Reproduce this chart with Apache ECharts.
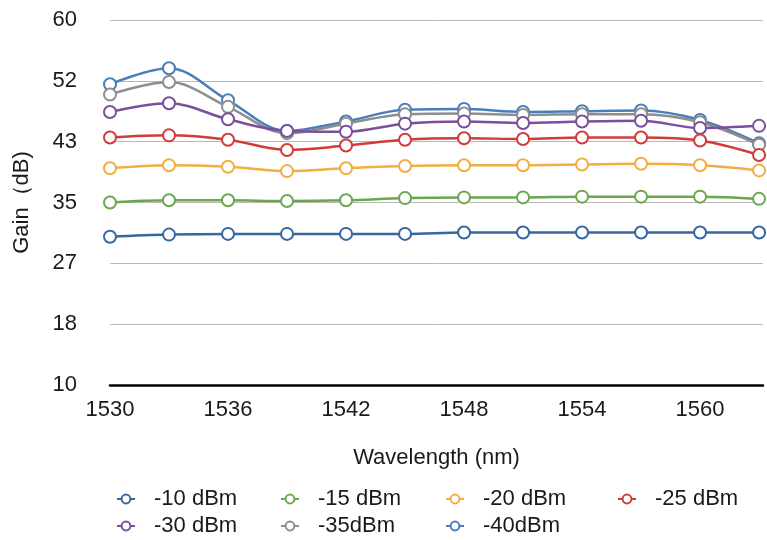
<!DOCTYPE html>
<html>
<head>
<meta charset="utf-8">
<script src="https://cdn.jsdelivr.net/npm/echarts@6/dist/echarts.min.js"></script>
<style>html,body{margin:0;padding:0;background:#fff}#c{width:767px;height:540px}</style>
</head>
<body>
<div id="c"></div>
<script>
var wavelengths = [1530, 1533, 1536, 1539, 1542, 1545, 1548, 1551, 1554, 1557, 1560, 1563];
var seriesNames = ['-10 dBm', '-15 dBm', '-20 dBm', '-25 dBm', '-30 dBm', '-35dBm', '-40dBm'];
var gain_m10 = [30.3, 30.6, 30.7, 30.7, 30.7, 30.7, 30.9, 30.9, 30.9, 30.9, 30.9, 30.9];
var gain_m15 = [35.0, 35.3, 35.3, 35.2, 35.3, 35.6, 35.7, 35.7, 35.8, 35.8, 35.8, 35.5];
var gain_m20 = [39.7, 40.1, 39.9, 39.3, 39.7, 40.0, 40.1, 40.1, 40.2, 40.3, 40.1, 39.4];
var gain_m25 = [43.9, 44.2, 43.6, 42.2, 42.8, 43.6, 43.8, 43.7, 43.9, 43.9, 43.5, 41.5];
var gain_m30 = [47.4, 48.6, 46.4, 44.8, 44.7, 45.8, 46.1, 45.9, 46.1, 46.2, 45.2, 45.5];
var gain_m35 = [49.8, 51.5, 48.1, 44.5, 45.8, 47.1, 47.2, 47.0, 47.1, 47.1, 46.0, 42.9];
var gain_m40 = [51.2, 53.4, 49.0, 44.8, 46.1, 47.7, 47.8, 47.4, 47.5, 47.6, 46.3, 43.1];
var yTicks = [10, 18, 27, 35, 43, 52, 60];

var allGains = [gain_m10, gain_m15, gain_m20, gain_m25, gain_m30, gain_m35, gain_m40];
var colors = ['#36679f', '#6aa84f', '#f2ae42', '#d13c3a', '#7b4f9b', '#8e8e8e', '#4a7ebb'];
var font = '"Liberation Sans", Arial, sans-serif';

var series = seriesNames.map(function (n, i) {
  return {
    name: n, type: 'line', smooth: 0.35,
    data: wavelengths.map(function (w, j) { return [w, allGains[i][j]]; }),
    symbol: 'emptyCircle', symbolSize: 12,
    lineStyle: { width: 2.5, color: colors[i] },
    itemStyle: { color: colors[i], borderWidth: 2.5, borderColor: colors[i] },
    z: 10 - i
  };
});

var legendPos = [[116, 488], [280, 488], [445, 488], [617, 488], [116, 515], [280, 515], [445, 515]];
var legends = seriesNames.map(function (n, i) {
  return {
    data: [n], left: legendPos[i][0], top: legendPos[i][1], padding: 0,
    itemWidth: 18, itemHeight: 11,
    textStyle: { fontFamily: font, fontSize: 22, color: '#1a1a1a', padding: [0, 0, 0, 14] }
  };
});

var chart = echarts.init(document.getElementById('c'));
chart.setOption({
  animation: false,
  backgroundColor: '#fff',
  color: colors,
  legend: legends,
  grid: { left: 110, right: 4, top: 20, bottom: 155 },
  xAxis: {
    type: 'value', min: 1530, max: 1563.2, interval: 6,
    name: 'Wavelength (nm)', nameLocation: 'middle', nameGap: 62,
    nameTextStyle: { fontFamily: font, fontSize: 22, color: '#1a1a1a' },
    axisLine: { show: true, onZero: false, lineStyle: { color: '#000', width: 2.5 } },
    axisTick: { show: false },
    splitLine: { show: false },
    axisLabel: { margin: 14, fontFamily: font, fontSize: 22, color: '#1a1a1a', showMaxLabel: false,
      formatter: function (v) { return (v % 6 === 0) ? String(v) : ''; } }
  },
  yAxis: {
    type: 'value', min: 10, max: 60, interval: 50 / 6,
    name: 'Gain（dB)', nameLocation: 'middle', nameGap: 77, nameRotate: 90,
    nameTextStyle: { fontFamily: font, fontSize: 22, color: '#1a1a1a' },
    axisLine: { show: false },
    axisTick: { show: false },
    splitLine: { show: true, lineStyle: { color: '#b8b8b8', width: 1 } },
    axisLabel: { margin: 33, fontFamily: font, fontSize: 22, color: '#1a1a1a',
      formatter: function (v) {
        var r = Math.round(v);
        for (var k = 0; k < yTicks.length; k++) { if (yTicks[k] === r) return String(yTicks[k]); }
        return '';
      } }
  },
  series: series
});
</script>
</body>
</html>
